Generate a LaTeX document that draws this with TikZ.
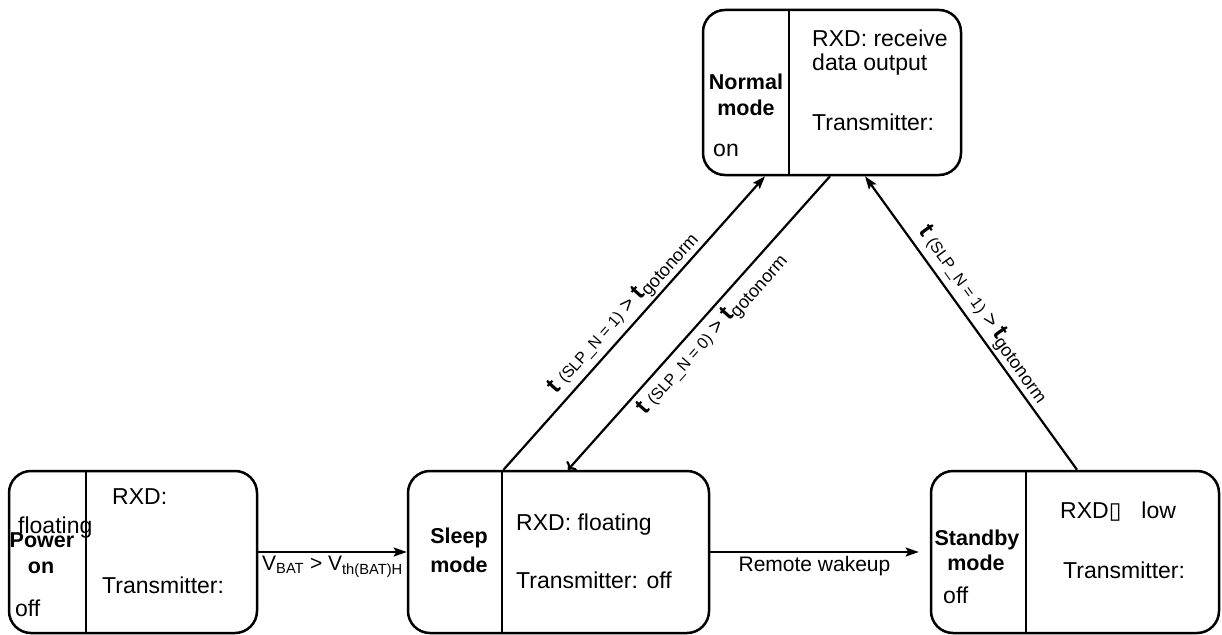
\documentclass[tikz,border=0pt]{standalone}
\usepackage{fontspec}
\setmainfont{Liberation Sans}
\newfontfamily\symfont{DejaVu Sans}
\usetikzlibrary{arrows.meta}

\tikzset{
  modebox/.style={draw, line width=2.5pt, rounded corners=22pt, inner sep=0pt},
  divider/.style={line width=1.3pt},
  arr/.style={line width=2.2pt, -{Stealth[length=13pt,width=9pt,inset=2.5pt]}},
  modename/.style={font=\fontsize{21.5}{24}\selectfont\bfseries, inner sep=0pt},
  boxtext/.style={font=\fontsize{23}{27}\selectfont, inner sep=0pt, anchor=west},
  edgetext/.style={font=\fontsize{21}{24}\selectfont, inner sep=3pt},
}

\begin{document}
\begin{tikzpicture}[x=1pt, y=-1pt]
    \useasboundingbox (0,0) rectangle (1222,634);

    % Normal mode (top)
    \node[modebox, minimum width=258pt, minimum height=165pt] (nm) at (832,92.5) {};
    \draw[divider] (789,10) -- (789,175);
    \node[modename] (nm1) at (746,82) {Normal};
    \node[modename] (nm2) at (746,108) {mode};
    \node[boxtext] (nm3) at (713,150) {on};
    \node[boxtext] (nm4) at (812,38) {RXD: receive};
    \node[boxtext] (nm5) at (812,65) {data output};
    \node[boxtext] (nm6) at (812,122) {Transmitter:};

    % Power on (bottom left)
    \node[modebox, minimum width=248pt, minimum height=162pt] (pw) at (133,552) {};
    \draw[divider] (86,471) -- (86,633);
    \node[boxtext] (pw1) at (112,497) {RXD:};
    \node[boxtext] (pw2) at (18,528) {floating};
    \node[modename] (pw3) at (42,540) {Power};
    \node[modename] (pw4) at (41,568) {on};
    \node[boxtext] (pw5) at (102,585) {Transmitter:};
    \node[boxtext] (pw6) at (15,608) {off};

    % Sleep mode
    \node[modebox, minimum width=301pt, minimum height=162pt] (sl) at (558.5,552) {};
    \draw[divider] (502,471) -- (502,633);
    \node[modename] (sl1) at (459,538) {Sleep};
    \node[modename] (sl2) at (459,565) {mode};
    \node[boxtext] (sl3) at (516,525) {RXD: floating};
    \node[boxtext] (sl4) at (516,580) {Transmitter: off};

    % Standby mode
    \node[modebox, minimum width=288pt, minimum height=162pt] (sb) at (1075,552) {};
    \draw[divider] (1026,471) -- (1026,633);
    \node[modename] (sb1) at (977,540) {Standby};
    \node[modename] (sb2) at (976,563) {mode};
    \node[boxtext] (sb3) at (943,595) {off};
    \node[boxtext] (sb4) at (1060,512) {RXD{\symfont ▯}\hspace{20pt}low};
    \node[boxtext] (sb5) at (1063,570) {Transmitter:};

    % transitions
    \draw[arr] (pw.east) -- node[edgetext, below] {V\textsubscript{BAT} > V\textsubscript{th(BAT)H}} (sl.west);
    \draw[arr] (sl.east) -- node[edgetext, below] {Remote wakeup} ([xshift=-11pt]sb.west);
    \draw[arr] ([xshift=-55pt]sl.north) -- node[edgetext, sloped, above, inner sep=2pt]
      {{\fontsize{24}{26}\selectfont\bfseries t} {\fontsize{16}{18}\selectfont (SLP\_N = 1)} > {\fontsize{24}{26}\selectfont\bfseries t}\raisebox{-4pt}{\fontsize{18}{18}\selectfont gotonorm}}
      ([xshift=-67pt]nm.south);
    \draw[arr, <-] ([xshift=9.5pt]sl.north) -- node[edgetext, sloped, below, inner sep=5pt]
      {{\fontsize{24}{26}\selectfont\bfseries t} {\fontsize{16}{18}\selectfont (SLP\_N = 0)} > {\fontsize{24}{26}\selectfont\bfseries t}\raisebox{-4pt}{\fontsize{18}{18}\selectfont gotonorm}}
      ([xshift=-2pt]nm.south);
    \draw[arr] ([xshift=2pt]sb.north) -- node[edgetext, sloped, above, inner sep=2pt]
      {{\fontsize{24}{26}\selectfont\bfseries t} {\fontsize{16}{18}\selectfont (SLP\_N = 1)} > {\fontsize{24}{26}\selectfont\bfseries t}\raisebox{-4pt}{\fontsize{18}{18}\selectfont gotonorm}}
      ([xshift=33pt]nm.south);

\end{tikzpicture}
\end{document}
